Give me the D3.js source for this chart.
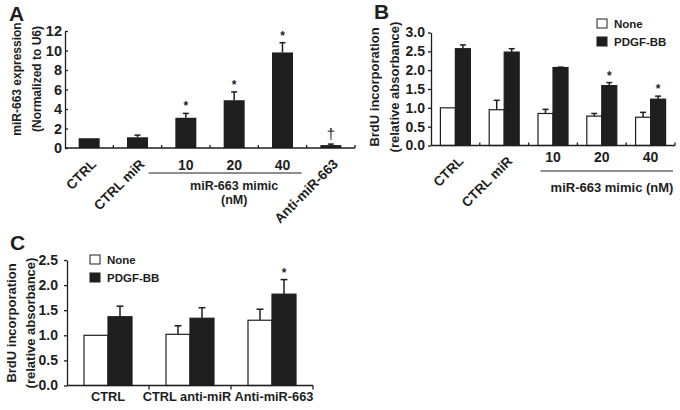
<!DOCTYPE html>
<html><head><meta charset="utf-8">
<script src="https://cdn.jsdelivr.net/npm/d3@7"></script>
<style>
body{margin:0;background:#fff}
svg{display:block}
text{font-family:"Liberation Sans",Arial,sans-serif;font-weight:bold;fill:#1e1e1e}
</style>
</head><body><svg id="c" width="680" height="410"></svg>
<script>
// Panel A
const aCategories = ["CTRL","CTRL miR","10","20","40","Anti-miR-663"];
const aValues = [1.0,1.1,3.1,4.9,9.8,0.3];
const aErrors = [0,0.22,0.45,0.85,1.0,0.1];
const aMarks = ["","","*","*","*","†"];
const aTicks = [0,2,4,6,8,10,12];
// Panel B
const bCategories = ["CTRL","CTRL miR","10","20","40"];
const bSeries = ["None","PDGF-BB"];
const bNone = [1.0,0.95,0.85,0.78,0.75];
const bNoneErr = [0,0.25,0.11,0.07,0.13];
const bPdgf = [2.57,2.48,2.07,1.59,1.23];
const bPdgfErr = [0.1,0.09,0.01,0.08,0.08];
const bMarks = ["","","","*","*"];
const bTicks = [0,0.5,1,1.5,2,2.5,3];
// Panel C
const cCategories = ["CTRL","CTRL anti-miR","Anti-miR-663"];
const cSeries = ["None","PDGF-BB"];
const cNone = [1.0,1.02,1.3];
const cNoneErr = [0,0.17,0.22];
const cPdgf = [1.37,1.34,1.82];
const cPdgfErr = [0.21,0.21,0.29];
const cMarks = ["","","*"];
const cTicks = [0,0.5,1,1.5,2,2.5];

const svg = d3.select("#c");
const INK = "#1e1e1e";

function errBar(g, cx, yTop, yErr, cap){
  g.append("line").attr("x1",cx).attr("x2",cx).attr("y1",yTop).attr("y2",yErr)
    .attr("stroke",INK).attr("stroke-width",1.5);
  g.append("line").attr("x1",cx-cap/2).attr("x2",cx+cap/2).attr("y1",yErr).attr("y2",yErr)
    .attr("stroke",INK).attr("stroke-width",1.5);
}
function yTitle(g, lines, xs, yc, size){
  lines.forEach((t,i)=>{
    g.append("text").attr("transform",`translate(${xs[i]},${yc}) rotate(-90)`)
      .attr("text-anchor","middle").style("font-size",size+"px").text(t);
  });
}
function yAxis(g, y, x0, ticks, fmt, inner, pad, fs){
  const ax = d3.axisLeft(y).tickValues(ticks).tickFormat(fmt).tickSizeOuter(0)
    .tickSizeInner(inner).tickPadding(pad);
  const a = g.append("g").attr("transform",`translate(${x0},0)`).call(ax);
  a.selectAll("path,line").attr("stroke",INK).attr("stroke-width",1.3);
  a.selectAll("text").style("font-size",fs+"px").style("font-weight","bold")
    .style("font-family",'"Liberation Sans",Arial,sans-serif').attr("fill",INK);
}
function xAxis(g, x, y0, tickDir){
  const [r0,r1] = x.range();
  g.append("line").attr("x1",r0).attr("x2",r1).attr("y1",y0).attr("y2",y0).attr("stroke",INK).attr("stroke-width",1.3);
  const bounds = x.domain().slice(1).map(d=>x(d));
  bounds.push(r1);
  g.selectAll(null).data(bounds).enter().append("line")
    .attr("x1",d=>d).attr("x2",d=>d).attr("y1",y0).attr("y2",y0+tickDir)
    .attr("stroke",INK).attr("stroke-width",1.3);
}

// ---------- Panel A ----------
{
  const g = svg.append("g");
  const x = d3.scaleBand().domain(aCategories).range([65,355]);
  const y = d3.scaleLinear().domain([0,12]).range([148,31]);
  const bw = 21;
  aCategories.forEach((c,i)=>{
    const cx = x(c)+x.bandwidth()/2;
    g.append("rect").attr("x",cx-bw/2).attr("width",bw).attr("y",y(aValues[i]))
      .attr("height",y(0)-y(aValues[i])).attr("fill",INK);
    if(aErrors[i]>0) errBar(g,cx,y(aValues[i]),y(aValues[i]+aErrors[i]),6);
    if(aMarks[i]){
      const isDag = aMarks[i]==="†";
      g.append("text").attr("x",cx).attr("y",y(aValues[i]+aErrors[i])-(isDag?5:3))
        .attr("text-anchor","middle").style("font-size",isDag?"15px":"12px")
        .style("font-weight",isDag?"normal":"bold").text(aMarks[i]);
    }
  });
  yAxis(g,y,65,aTicks,d3.format("d"),-3,3,14.5);
  xAxis(g,x,148,-3);
  aCategories.forEach((c,i)=>{
    const cx = x(c)+x.bandwidth()/2;
    if(/^\d+$/.test(c)){
      g.append("text").attr("x",cx).attr("y",170).attr("text-anchor","middle").style("font-size","14px").text(c);
    } else {
      g.append("text").attr("transform",`translate(${cx+8},${165}) rotate(-45)`)
        .attr("text-anchor","end").style("font-size","13.5px").text(c);
    }
  });
  const num = aCategories.filter(c=>/^\d+$/.test(c));
  const lx0 = x(num[0])-13, lx1 = x(num[num.length-1])+x.bandwidth()-5;
  g.append("line").attr("x1",lx0).attr("x2",lx1).attr("y1",173).attr("y2",173).attr("stroke",INK).attr("stroke-width",1);
  const mid = (x(num[0])+x(num[num.length-1])+x.bandwidth())/2;
  g.append("text").attr("x",mid).attr("y",190).attr("text-anchor","middle").style("font-size","12.5px").text("miR-663 mimic");
  g.append("text").attr("x",mid).attr("y",204).attr("text-anchor","middle").style("font-size","12.5px").text("(nM)");
  yTitle(g,["miR-663 expression","(Normalized to U6)"],[21,41],79,12);
  g.append("text").attr("x",9).attr("y",21).style("font-size","21px").text("A");
}

function groupedPanel(opts){
  const g = svg.append("g");
  const x = d3.scaleBand().domain(opts.categories).range(opts.xr);
  const xs = d3.scaleBand().domain(opts.series).range([0,opts.groupW]);
  const y = d3.scaleLinear().domain(opts.yd).range(opts.yr);
  const vals = [opts.none, opts.pdgf], errs = [opts.noneErr, opts.pdgfErr];
  opts.categories.forEach((c,i)=>{
    const gx = x(c)+x.bandwidth()/2-opts.groupW/2;
    opts.series.forEach((s,j)=>{
      const v = vals[j][i], e = errs[j][i];
      const bx = gx+xs(s);
      const cx = bx+xs.bandwidth()/2;
      if(e>0) errBar(g,cx,y(v),y(v+e),opts.cap);
      g.append("rect").attr("x",bx).attr("width",xs.bandwidth()).attr("y",y(v))
        .attr("height",y(0)-y(v)).attr("fill",j===0?"#fff":INK).attr("stroke",INK).attr("stroke-width",1.2);
      if(j===1 && opts.marks[i]){
        g.append("text").attr("x",cx).attr("y",y(v+e)-3).attr("text-anchor","middle")
          .style("font-size","12px").text(opts.marks[i]);
      }
    });
  });
  yAxis(g,y,opts.xr[0],opts.ticks,d3.format(".1f"),opts.tickIn,opts.tickPad,opts.tickFs);
  xAxis(g,x,opts.yr[0],opts.xTickDir);
  opts.series.forEach((s,j)=>{
    g.append("rect").attr("x",opts.leg[0]).attr("y",opts.leg[1]+j*opts.leg[2]).attr("width",10).attr("height",9)
      .attr("fill",j===0?"#fff":INK).attr("stroke",INK).attr("stroke-width",1);
    g.append("text").attr("x",opts.leg[0]+17).attr("y",opts.leg[1]+j*opts.leg[2]+9)
      .style("font-size","11.5px").text(s);
  });
  return {g,x,y};
}

// ---------- Panel B ----------
{
  const {g,x,y} = groupedPanel({categories:bCategories, series:bSeries, xr:[431,675], groupW:30,
    yd:[0,3], yr:[145.5,32.5], none:bNone, noneErr:bNoneErr, pdgf:bPdgf, pdgfErr:bPdgfErr,
    marks:bMarks, ticks:bTicks, cap:6, tickIn:3, tickPad:3, tickFs:14, xTickDir:-3, leg:[597,19,18]});
  bCategories.forEach(c=>{
    const cx = x(c)+x.bandwidth()/2;
    if(/^\d+$/.test(c)){
      g.append("text").attr("x",cx).attr("y",162).attr("text-anchor","middle").style("font-size","14px").text(c);
    } else {
      g.append("text").attr("transform",`translate(${cx+9},${162}) rotate(-45)`)
        .attr("text-anchor","end").style("font-size","13.5px").text(c);
    }
  });
  const num = bCategories.filter(c=>/^\d+$/.test(c));
  g.append("line").attr("x1",x(num[0])+12).attr("x2",x(num[num.length-1])+x.bandwidth()-2)
    .attr("y1",171).attr("y2",171).attr("stroke",INK).attr("stroke-width",1);
  g.append("text").attr("x",612).attr("y",192).attr("text-anchor","middle").style("font-size","13px").text("miR-663 mimic (nM)");
  yTitle(g,["BrdU incorporation","(relative absorbance)"],[379,399],87,13);
  g.append("text").attr("x",374).attr("y",19).style("font-size","21px").text("B");
}

// ---------- Panel C ----------
{
  const {g,x,y} = groupedPanel({categories:cCategories, series:cSeries, xr:[67,313], groupW:48,
    yd:[0,2.5], yr:[385.5,260], none:cNone, noneErr:cNoneErr, pdgf:cPdgf, pdgfErr:cPdgfErr,
    marks:cMarks, ticks:cTicks, cap:7, tickIn:3, tickPad:6, tickFs:14, xTickDir:4, leg:[90,255,18]});
  const shift = [0,-3,2];
  cCategories.forEach((c,i)=>{
    g.append("text").attr("x",x(c)+x.bandwidth()/2+shift[i]).attr("y",401).attr("text-anchor","middle")
      .style("font-size","12.8px").text(c);
  });
  yTitle(g,["BrdU incorporation","(relative absorbance)"],[16,35],323,13);
  g.append("text").attr("x",10).attr("y",250).style("font-size","21px").text("C");
}
</script></body></html>
